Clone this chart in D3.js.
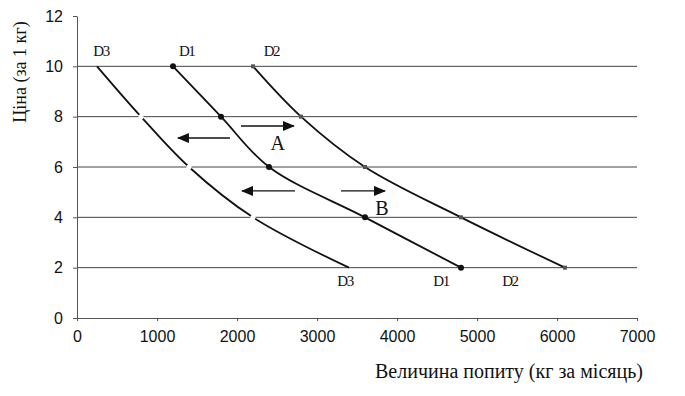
<!DOCTYPE html>
<html>
<head>
<meta charset="utf-8">
<script src="https://cdn.jsdelivr.net/npm/d3@7"></script>
<style>
  body { margin: 0; background: #fff; }
  .tick text { font-family: "Liberation Sans", Arial, sans-serif; font-size: 16px; fill: #111; }
  .lbl { font-family: "Liberation Serif", "Times New Roman", serif; fill: #111; }
</style>
</head>
<body>
<div id="chart"></div>
<script>
// price levels (за 1 кг)
var prices = [10, 8, 6, 4, 2];
// quantity demanded at each price, per curve
var d1 = [1200, 1800, 2400, 3600, 4800];
var d2 = [2200, 2800, 3600, 4800, 6100];
var d3q = [250, 800, 1400, 2200, 3400];

var xTicks = [0, 1000, 2000, 3000, 4000, 5000, 6000, 7000];
var yTicks = [0, 2, 4, 6, 8, 10, 12];
var gridLevels = [2, 4, 6, 8, 10];

// curve names, placed above the top end and below the bottom end
var topLabels = [["D3", 300], ["D1", 1370], ["D2", 2430]];
var bottomLabels = [["D3", 3350], ["D1", 4550], ["D2", 5410]];

// shift arrows: [x from, x to, price level]
var arrows = [
  [2050, 2712, 7.63],
  [1912, 1262, 7.15],
  [2725, 2063, 5.05],
  [3300, 3850, 5.05]
];
var notes = [["A", 2510, 6.67], ["B", 3810, 4.1]];

var width = 685, height = 396;

var svg = d3.select("#chart").append("svg")
    .attr("width", width)
    .attr("height", height);

svg.append("defs").append("marker")
    .attr("id", "head")
    .attr("viewBox", "0 0 12 10")
    .attr("refX", 11).attr("refY", 5)
    .attr("markerWidth", 12).attr("markerHeight", 10)
    .attr("markerUnits", "userSpaceOnUse")
    .attr("orient", "auto")
  .append("path")
    .attr("d", "M0,0 L12,5 L0,10 z")
    .attr("fill", "#111");

var x = d3.scaleLinear().domain([0, 7000]).range([77, 637]);
var y = d3.scaleLinear().domain([0, 12]).range([318, 16]);

/************* grid ***************/
svg.append("g").selectAll("line")
    .data(gridLevels)
    .enter().append("line")
      .attr("x1", x(0)).attr("x2", x(7000))
      .attr("y1", d => y(d)).attr("y2", d => y(d))
      .attr("stroke", "#444")
      .attr("stroke-width", 1);

/************* axes ***************/
svg.append("g")
    .attr("transform", "translate(0," + y(0) + ")")
    .call(d3.axisBottom(x).tickValues(xTicks).tickFormat(d3.format("d"))
        .tickSize(3).tickPadding(10).tickSizeOuter(0));
svg.append("g")
    .attr("transform", "translate(" + x(0) + ",0)")
    .call(d3.axisLeft(y).tickValues(yTicks).tickSize(4).tickPadding(10).tickSizeOuter(0));
svg.selectAll(".domain, .tick line").attr("stroke", "#555");

/************* demand curves ***************/
var line = d3.line()
    .x(d => x(d[0]))
    .y(d => y(d[1]))
    .curve(d3.curveCatmullRom);

function pts(q) { return q.map((v, i) => [v, prices[i]]); }

[d3q, d1, d2].forEach(function(q) {
  svg.append("path")
    .datum(pts(q))
    .attr("d", line)
    .attr("fill", "none")
    .attr("stroke", "#111")
    .attr("stroke-width", 1.8);
});

// D3 has white markers that break the line at grid crossings
svg.append("g").selectAll("circle")
    .data(pts(d3q).slice(1, 4))
    .enter().append("circle")
      .attr("cx", d => x(d[0])).attr("cy", d => y(d[1]))
      .attr("r", 2.6)
      .attr("fill", "#fff");

svg.append("g").selectAll("circle")
    .data(pts(d1))
    .enter().append("circle")
      .attr("cx", d => x(d[0])).attr("cy", d => y(d[1]))
      .attr("r", 3)
      .attr("fill", "#111");

svg.append("g").selectAll("rect")
    .data(pts(d2))
    .enter().append("rect")
      .attr("x", d => x(d[0]) - 2).attr("y", d => y(d[1]) - 2)
      .attr("width", 4).attr("height", 4)
      .attr("fill", "#555");

/************* curve labels ***************/
function curveLabels(list, price, dy) {
  svg.append("g").selectAll("text")
      .data(list)
      .enter().append("text")
        .attr("class", "lbl")
        .attr("x", d => x(d[1])).attr("y", y(price) + dy)
        .attr("text-anchor", "middle")
        .style("font-size", "15px").style("letter-spacing", "-1.5px")
        .text(d => d[0]);
}
curveLabels(topLabels, 10, -10);
curveLabels(bottomLabels, 2, 18);

/************* shift arrows ***************/
svg.append("g").selectAll("line")
    .data(arrows)
    .enter().append("line")
      .attr("x1", d => x(d[0])).attr("x2", d => x(d[1]))
      .attr("y1", d => y(d[2])).attr("y2", d => y(d[2]))
      .attr("stroke", "#111")
      .attr("stroke-width", 1.4)
      .attr("marker-end", "url(#head)");

svg.append("g").selectAll("text")
    .data(notes)
    .enter().append("text")
      .attr("class", "lbl")
      .attr("x", d => x(d[1])).attr("y", d => y(d[2]))
      .attr("text-anchor", "middle")
      .style("font-size", "20px")
      .text(d => d[0]);

/************* axis titles ***************/
svg.append("text").attr("class", "lbl")
    .attr("transform", "translate(26,72) rotate(-90)")
    .attr("text-anchor", "middle")
    .style("font-size", "18px")
    .text("Ціна (за 1 кг)");

svg.append("text").attr("class", "lbl")
    .attr("x", 509).attr("y", 378)
    .attr("text-anchor", "middle")
    .style("font-size", "20px")
    .text("Величина попиту (кг за місяць)");
</script>
</body>
</html>
